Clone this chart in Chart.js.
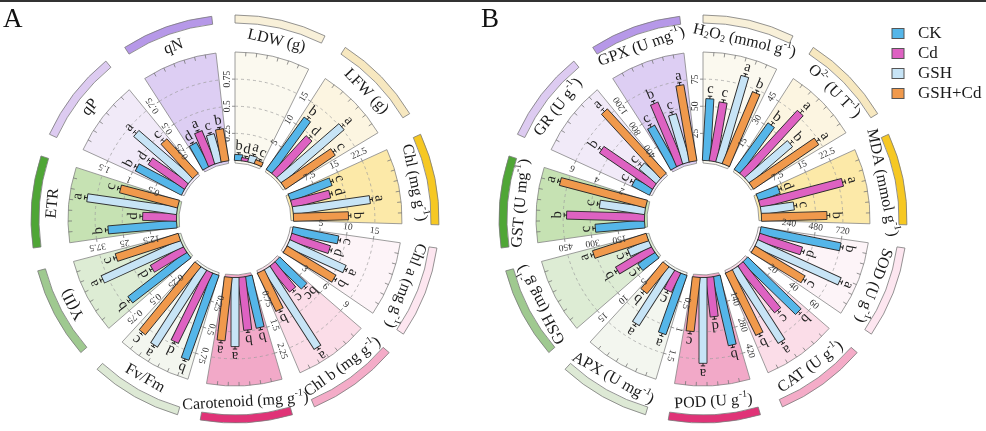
<!DOCTYPE html>
<html><head><meta charset="utf-8">
<script src="https://cdn.jsdelivr.net/npm/chart.js@4.4.1/dist/chart.umd.min.js"></script>
<style>html,body{margin:0;padding:0;background:#fff;}canvas{display:block;}</style>
</head><body>
<canvas id="c" width="986" height="431"></canvas>
<script>
// ---------------- DATA ----------------
const treatments = ['CK', 'Cd', 'GSH', 'GSH+Cd'];

const leftCategories = ['LDW (g)', 'LFW (g)', 'Chl (mg g^{-1})', 'Chl a (mg g^{-1})', 'Chl b (mg g^{-1})',
  'Carotenoid (mg g^{-1})', 'Fv/Fm', 'Y(II)', 'ETR', 'qP', 'qN'];
const leftMax = [1, 20, 30, 20, 12, 3, 1, 1, 50, 2, 1];
const leftTicks = [['0.25','0.5','0.75'], ['5','10','15'], ['7.5','15','22.5'], ['5','10','15'], ['3','6','9'],
  ['0.75','1.5','2.25'], ['0.25','0.5','0.75'], ['0.25','0.5','0.75'], ['12.5','25','37.5'], ['0.5','1','1.5'], ['0.25','0.5','0.75']];
const leftCK    = [0.055, 11.9, 12.2, 8.6, 4.2, 1.46, 0.83, 0.68, 31.7, 0.96, 0.25];
const leftCd    = [0.030,  9.4, 10.9, 7.5, 3.6, 1.47, 0.72, 0.35, 15.6, 0.81, 0.33];
const leftGSH   = [0.065, 15.2, 21.5, 11.4, 10.4, 1.91, 0.84, 0.80, 41.8, 1.33, 0.27];
const leftGSHCd = [0.040, 11.1, 15.2, 10.5, 4.7, 1.76, 0.81, 0.61, 27.6, 0.86, 0.30];
const leftErr   = [0.008, 0.3, 0.4, 0.25, 0.15, 0.04, 0.01, 0.015, 0.8, 0.03, 0.008];
const leftLetCK    = ['b','b','c','c','bc','b','b','b','b','b','d'];
const leftLetCd    = ['d','d','d','d','c','b','d','d','d','d','a'];
const leftLetGSH   = ['a','a','a','a','a','a','a','a','a','a','c'];
const leftLetGSHCd = ['c','c','b','b','b','a','c','c','c','c','b'];

const rightCategories = ['H_{2}O_{2} (mmol g^{-1})', 'O^{2-} (U T^{-1})', 'MDA (mmol g^{-1})', 'SOD (U g^{-1})',
  'CAT (U g^{-1})', 'POD (U g^{-1})', 'APX (U mg^{-1})', 'GSH (mg g^{-1})', 'GST (U mg^{-1})', 'GR (U g^{-1})', 'GPX (U mg^{-1})'];
const rightMax = [100, 60, 30, 960, 80, 560, 2, 20, 600, 8, 1600];
const rightTicks = [['25','50','75'], ['15','30','45'], ['7.5','15','22.5'], ['240','480','720'], ['20','40','60'],
  ['140','280','420'], ['0.5','1','1.5'], ['5','10','15'], ['150','300','450'], ['2','4','6'], ['400','800','1200']];
const rightCK    = [57, 31.8, 6.3, 722, 54.9, 365, 1.16, 3.8, 274, 1.47, 693];
const rightCd    = [55, 47.2, 23.7, 397, 43.8, 205, 0.39, 7.6, 431, 4.74, 985];
const rightGSH   = [83, 31.3, 9.2, 810, 64.0, 443, 1.21, 4.2, 253, 1.66, 739];
const rightGSHCd = [72, 43.7, 18.1, 516, 51.1, 281, 0.64, 10.4, 492, 6.44, 1137];
const rightErr   = [1.5, 1.2, 0.5, 15, 1.2, 8, 0.03, 0.3, 8, 0.15, 25];
const rightLetCK    = ['c','b','d','b','b','b','a','c','c','c','c'];
const rightLetCd    = ['c','a','a','d','c','d','c','b','b','b','b'];
const rightLetGSH   = ['a','b','c','a','a','a','a','c','c','c','c'];
const rightLetGSHCd = ['b','a','b','c','b','c','b','a','a','a','a'];

// ---------------- STYLE ----------------
const BAR_COLORS = ['#55b6e9', '#de62c2', '#c7e4f6', '#f0994c'];
const SECTOR_BG = ['#fbf9ef','#fcf5e1','#fce9a8','#fdf4f8','#fbdde8','#f2a9c8','#f3f6ef','#ddecd4','#c6e2b3','#f1eaf8','#ddcef3'];
const BAND_COL  = ['#f8f0d9','#f7e8c0','#f6c823','#fde6f0','#f4acc8','#e03377','#dde9d5','#9fc990','#4fa636','#ddcbf1','#b698e8'];
const FONT = '"Liberation Serif", "Times New Roman", serif';
const SLOT = 360 / 55;
const R_IN = 58.5, R_SEC = 56, R_OUT = 167, R_LAB = 183, BAND1 = 196, BAND2 = 204, BAR_W = 8;

const panels = [
  {cx: 235, cy: 219, cats: leftCategories, max: leftMax, ticks: leftTicks,
   vals: [leftCK, leftCd, leftGSH, leftGSHCd], lets: [leftLetCK, leftLetCd, leftLetGSH, leftLetGSHCd], err: leftErr},
  {cx: 703, cy: 219, cats: rightCategories, max: rightMax, ticks: rightTicks,
   vals: [rightCK, rightCd, rightGSH, rightGSHCd], lets: [rightLetCK, rightLetCd, rightLetGSH, rightLetGSHCd], err: rightErr}
];

function rad(d) { return d * Math.PI / 180; }
function norm(d) { while (d > 180) d -= 360; while (d <= -180) d += 360; return d; }

function parseRich(s) {
  const segs = []; const re = /(\^|_)\{([^}]*)\}/g; let last = 0, m;
  while ((m = re.exec(s))) {
    if (m.index > last) segs.push({t: s.slice(last, m.index), k: 0});
    segs.push({t: m[2], k: m[1] === '^' ? 1 : -1}); last = re.lastIndex;
  }
  if (last < s.length) segs.push({t: s.slice(last), k: 0});
  return segs;
}
function drawRich(ctx, s, size) {
  const segs = parseRich(s); let w = 0;
  segs.forEach(g => { ctx.font = (g.k ? size * 0.62 : size) + 'px ' + FONT; g.w = ctx.measureText(g.t).width; w += g.w; });
  let x = -w / 2;
  ctx.textAlign = 'left'; ctx.textBaseline = 'middle';
  segs.forEach(g => {
    ctx.font = (g.k ? size * 0.62 : size) + 'px ' + FONT;
    const dy = g.k === 1 ? -size * 0.36 : (g.k === -1 ? size * 0.22 : 0);
    ctx.fillText(g.t, x, dy); x += g.w;
  });
}

function drawPanel(chart, P) {
  const ctx = chart.ctx, xs = chart.scales.x, ys = chart.scales.y;
  const k = Math.abs(xs.getPixelForValue(1) - xs.getPixelForValue(0));
  const C = {x: xs.getPixelForValue(P.cx), y: ys.getPixelForValue(P.cy)};
  const pt = (r, a) => ({x: xs.getPixelForValue(P.cx + r * Math.cos(rad(a))), y: ys.getPixelForValue(P.cy + r * Math.sin(rad(a)))});
  const span = R_OUT - R_IN;
  const n = P.cats.length;
  for (let s = 0; s < n; s++) {
    const a0 = -90 + s * 5 * SLOT, a1 = a0 + 4 * SLOT, mx = P.max[s];
    ctx.save();
    ctx.beginPath();
    ctx.arc(C.x, C.y, R_OUT * k, rad(a0), rad(a1));
    ctx.arc(C.x, C.y, R_SEC * k, rad(a1), rad(a0), true);
    ctx.closePath();
    ctx.fillStyle = SECTOR_BG[s]; ctx.fill();
    ctx.lineWidth = 0.8; ctx.strokeStyle = '#858585'; ctx.stroke();
    ctx.setLineDash([3, 3]); ctx.strokeStyle = '#9c9c9c'; ctx.lineWidth = 0.7;
    P.ticks[s].forEach(t => {
      const r = R_IN + parseFloat(t) / mx * span;
      ctx.beginPath(); ctx.arc(C.x, C.y, r * k, rad(a0), rad(a1)); ctx.stroke();
    });
    ctx.setLineDash([]);
    ctx.strokeStyle = '#777'; ctx.lineWidth = 0.8;
    for (let m = 1; m < 7; m++) {
      const a = a0 + m * (a1 - a0) / 7;
      const p1 = pt(R_OUT, a), p2 = pt(R_OUT - 4, a);
      ctx.beginPath(); ctx.moveTo(p1.x, p1.y); ctx.lineTo(p2.x, p2.y); ctx.stroke();
    }
    const perp = rad(a0 - 90);
    P.ticks[s].forEach(t => {
      const r = R_IN + parseFloat(t) / mx * span;
      const p = pt(r, a0);
      ctx.beginPath(); ctx.moveTo(p.x, p.y); ctx.lineTo(p.x + 3 * k * Math.cos(perp), p.y + 3 * k * Math.sin(perp)); ctx.stroke();
      ctx.save();
      ctx.translate(p.x + 8 * k * Math.cos(perp), p.y + 8 * k * Math.sin(perp));
      ctx.rotate(rad(a0));
      ctx.fillStyle = '#333'; ctx.font = '9.5px ' + FONT; ctx.textAlign = 'center'; ctx.textBaseline = 'middle';
      ctx.fillText(t, 0, 0);
      ctx.restore();
    });
    for (let j = 0; j < 4; j++) {
      const a = a0 + (j + 0.5) * SLOT, v = P.vals[j][s];
      const rEnd = R_IN + v / mx * span;
      const rE = rEnd + P.err[s] / mx * span;
      ctx.save();
      ctx.translate(C.x, C.y); ctx.rotate(rad(a));
      ctx.fillStyle = BAR_COLORS[j]; ctx.strokeStyle = '#2b2b2b'; ctx.lineWidth = 0.9;
      ctx.beginPath(); ctx.rect(R_IN * k, -BAR_W / 2, (rEnd - R_IN) * k, BAR_W); ctx.fill(); ctx.stroke();
      ctx.strokeStyle = '#111'; ctx.lineWidth = 0.9;
      ctx.beginPath(); ctx.moveTo(rEnd * k, 0); ctx.lineTo(rE * k + 1, 0);
      ctx.moveTo(rE * k + 1, -2.2); ctx.lineTo(rE * k + 1, 2.2); ctx.stroke();
      ctx.restore();
      const lp = pt(rE + 8, a);
      ctx.save(); ctx.translate(lp.x, lp.y); ctx.rotate(rad(a + 90));
      ctx.fillStyle = '#222'; ctx.font = '14.5px ' + FONT; ctx.textAlign = 'center'; ctx.textBaseline = 'middle';
      ctx.fillText(P.lets[j][s], 0, 0);
      ctx.restore();
    }
    const mid = a0 + 2 * SLOT, nm = norm(mid);
    const lp = pt(R_LAB, mid);
    const rot = (nm > 40 && nm < 140) ? mid - 90 : mid + 90;
    ctx.save(); ctx.translate(lp.x, lp.y); ctx.rotate(rad(rot)); ctx.fillStyle = '#1a1a1a';
    drawRich(ctx, P.cats[s], 16);
    ctx.restore();
    ctx.beginPath();
    ctx.arc(C.x, C.y, BAND2 * k, rad(a0), rad(a1));
    ctx.arc(C.x, C.y, BAND1 * k, rad(a1), rad(a0), true);
    ctx.closePath();
    ctx.fillStyle = BAND_COL[s]; ctx.fill();
    ctx.strokeStyle = '#7a7a7a'; ctx.lineWidth = 0.8; ctx.stroke();
    ctx.restore();
  }
}

const radialPlugin = {
  id: 'radialBars',
  afterDraw(chart) {
    const ctx = chart.ctx;
    ctx.save();
    ctx.fillStyle = '#333'; ctx.fillRect(0, 0, chart.width, 2);
    panels.forEach(P => drawPanel(chart, P));
    ctx.fillStyle = '#111'; ctx.font = '27px ' + FONT; ctx.textAlign = 'left'; ctx.textBaseline = 'alphabetic';
    ctx.fillText('A', 3, 27); ctx.fillText('B', 481, 27);
    chart.data.datasets.forEach((d, i) => {
      const y = 28.5 + 20 * i;
      ctx.fillStyle = d.backgroundColor; ctx.strokeStyle = '#555'; ctx.lineWidth = 1;
      ctx.fillRect(892, y, 12, 10); ctx.strokeRect(892, y, 12, 10);
      ctx.fillStyle = '#1a1a1a'; ctx.font = '17px ' + FONT; ctx.textBaseline = 'middle'; ctx.textAlign = 'left';
      ctx.fillText(d.label, 918, y + 5.5);
    });
    ctx.restore();
  }
};

new Chart(document.getElementById('c'), {
  type: 'scatter',
  data: { datasets: treatments.map((t, i) => ({ label: t, data: [], backgroundColor: BAR_COLORS[i] })) },
  options: {
    responsive: false, animation: false, events: [],
    layout: { padding: 0 },
    plugins: { legend: { display: false }, tooltip: { enabled: false } },
    scales: {
      x: { type: 'linear', min: 0, max: 986, display: false },
      y: { type: 'linear', min: 0, max: 431, reverse: true, display: false }
    }
  },
  plugins: [radialPlugin]
});
</script>
</body></html>
